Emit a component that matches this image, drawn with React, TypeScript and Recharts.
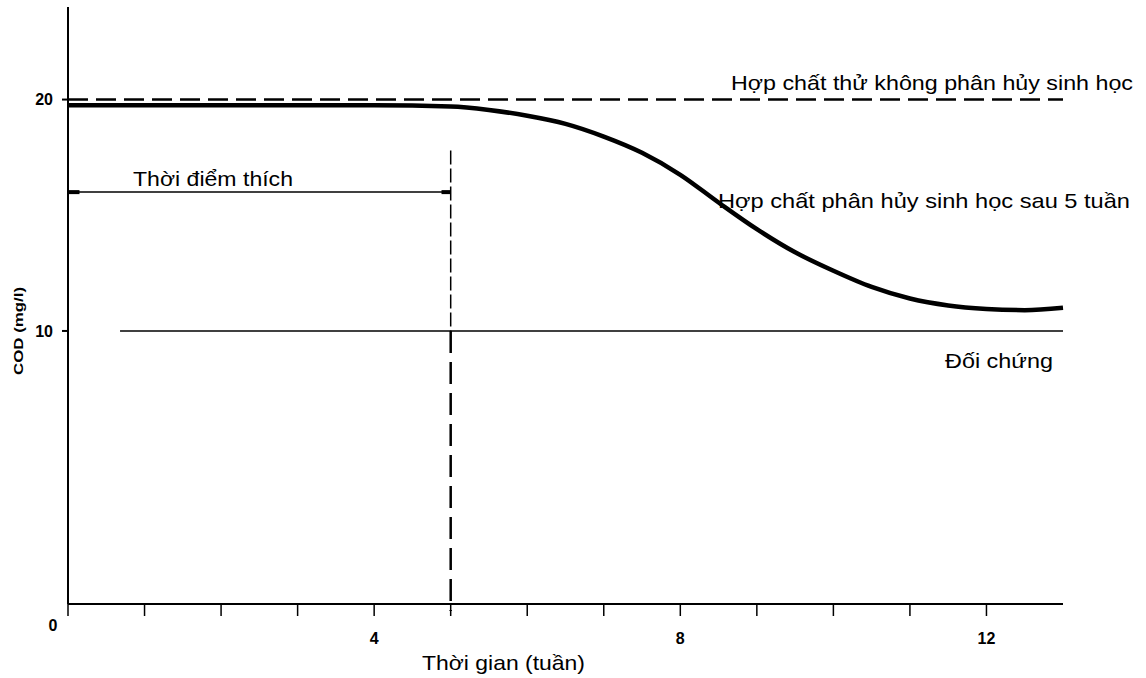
import React from 'react';
import { LineChart, Line, XAxis, YAxis, ReferenceLine, Customized } from 'recharts';

// COD of the biodegradable compound over time (weeks)
const weeks = [0, 1, 2, 3, 4, 5, 5.5, 6, 6.5, 7, 7.5, 8, 8.5, 9, 9.5, 10, 10.5, 11, 11.5, 12, 12.5, 13];
const codValues = [19.75, 19.75, 19.75, 19.75, 19.75, 19.7, 19.55, 19.3, 18.95, 18.4, 17.7, 16.75, 15.55, 14.4, 13.4, 12.6, 11.9, 11.4, 11.1, 10.95, 10.9, 11.0];

const xTicks = [0, 1, 2, 3, 4, 5, 6, 7, 8, 9, 10, 11, 12];
const xTickLabels = [0, 4, 8, 12];
const yTicks = [10, 20];

const nonBiodegradable = 20;
const control = 10;
const lagEnd = 5;
const lagLevel = 16;

const data = weeks.map((w, i) => ({ week: w, cod: codValues[i] }));

const FONT = '"Liberation Sans", Arial, sans-serif';

const XTick = (props: any) => {
  const { x, y, payload } = props;
  if (!xTickLabels.includes(payload.value)) return null;
  if (payload.value === 0) {
    return (
      <text x={x - 15} y={y + 13} textAnchor="middle" fontFamily={FONT} fontSize={16} fontWeight="bold" fill="#000">
        0
      </text>
    );
  }
  return (
    <text x={x} y={y + 26} textAnchor="middle" fontFamily={FONT} fontSize={16} fontWeight="bold" fill="#000">
      {payload.value}
    </text>
  );
};

const Annotations = () => {
  const t = (x: number, y: number, w: number, s: string) => (
    <text x={x} y={y} fontFamily={FONT} fontSize={21} fill="#000" textLength={w} lengthAdjust="spacingAndGlyphs">
      {s}
    </text>
  );
  return (
    <g>
      {t(731, 90, 402, 'Hợp chất thử không phân hủy sinh học')}
      {t(718, 208, 412, 'Hợp chất phân hủy sinh học sau 5 tuần')}
      {t(133, 186, 160, 'Thời điểm thích')}
      {t(945, 368, 108, 'Đối chứng')}
      {t(422, 670, 163, 'Thời gian (tuần)')}
      <text
        x={18}
        y={331}
        transform="rotate(-90 18 331)"
        textAnchor="middle"
        dominantBaseline="central"
        fontFamily={FONT}
        fontSize={13}
        fontWeight="bold"
        fill="#000"
        textLength={88}
        lengthAdjust="spacingAndGlyphs"
      >
        COD (mg/l)
      </text>
    </g>
  );
};

export default function App() {
  return (
    <div style={{ position: 'absolute', left: 0, top: 0, background: '#fff' }}>
      <LineChart width={1146} height={678} data={data} margin={{ top: 7, right: 83, left: 0, bottom: 0 }}>
        <XAxis
          type="number"
          dataKey="week"
          domain={[0, 13]}
          ticks={xTicks}
          interval={0}
          height={74}
          tickSize={12}
          tickMargin={2}
          axisLine={{ stroke: '#000', strokeWidth: 2 }}
          tickLine={{ stroke: '#000', strokeWidth: 1.5 }}
          tick={<XTick />}
        />
        <YAxis
          type="number"
          domain={[-1.8, 24]}
          ticks={yTicks}
          width={68}
          tickSize={6}
          tickMargin={9}
          axisLine={{ stroke: '#000', strokeWidth: 2 }}
          tickLine={{ stroke: '#000', strokeWidth: 2 }}
          tick={{ fill: '#000', fontSize: 16, fontWeight: 'bold', fontFamily: FONT }}
        />
        <ReferenceLine y={nonBiodegradable} stroke="#000" strokeWidth={2.5} strokeDasharray="20 8" />
        <ReferenceLine
          segment={[{ x: 0.68, y: control }, { x: 13, y: control }]}
          stroke="#000"
          strokeWidth={1.5}
        />
        <ReferenceLine
          segment={[{ x: lagEnd, y: 17.8 }, { x: lagEnd, y: control }]}
          stroke="#000"
          strokeWidth={1.5}
          strokeDasharray="14 4"
          ifOverflow="visible"
        />
        <ReferenceLine
          segment={[{ x: lagEnd, y: control }, { x: lagEnd, y: -2.1 }]}
          stroke="#000"
          strokeWidth={2.5}
          strokeDasharray="22 9"
          ifOverflow="visible"
        />
        <ReferenceLine
          segment={[{ x: 0, y: lagLevel }, { x: lagEnd, y: lagLevel }]}
          stroke="#000"
          strokeWidth={1.5}
        />
        <ReferenceLine
          segment={[{ x: 0, y: lagLevel }, { x: 0.15, y: lagLevel }]}
          stroke="#000"
          strokeWidth={4}
        />
        <ReferenceLine
          segment={[{ x: 4.88, y: lagLevel }, { x: lagEnd, y: lagLevel }]}
          stroke="#000"
          strokeWidth={4}
        />
        <Line
          type="monotone"
          dataKey="cod"
          stroke="#000"
          strokeWidth={4.5}
          dot={false}
          isAnimationActive={false}
        />
        <Customized component={Annotations} />
      </LineChart>
    </div>
  );
}
